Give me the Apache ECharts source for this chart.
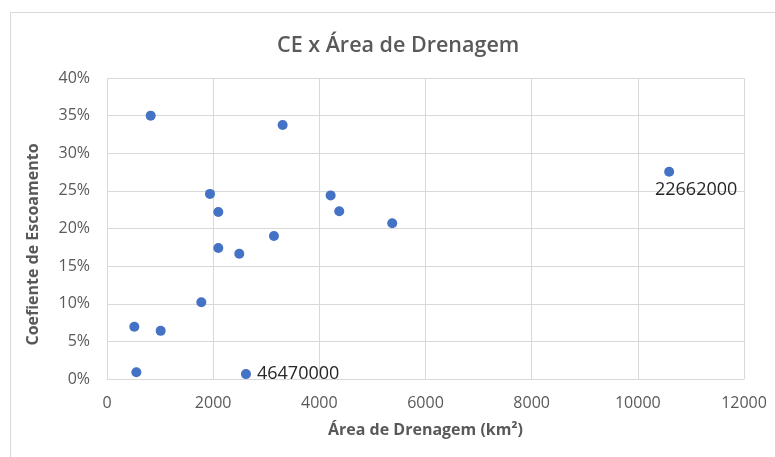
<!DOCTYPE html>
<html>
<head>
<meta charset="utf-8">
<script src="https://cdn.jsdelivr.net/npm/echarts@6/dist/echarts.min.js"></script>
<style>
  html, body { margin: 0; padding: 0; background: #fff; }
  #chart { width: 775px; height: 457px; }
</style>
</head>
<body>
<div id="chart"></div>
<script>
// Drainage area (km²) of each basin and its runoff coefficient
const areaKm2 = [823, 3309, 1940, 2097, 4213, 4375, 5373, 3145, 2097, 2492, 1777, 515, 1011, 553, 2618, 10590];
const runoffCoef = [0.350, 0.3375, 0.246, 0.222, 0.244, 0.223, 0.207, 0.190, 0.174, 0.1665, 0.102, 0.0695, 0.064, 0.009, 0.0065, 0.2755];
// Text shown beside selected points (empty = no label)
const pointLabels = ['', '', '', '', '', '', '', '', '', '', '', '', '', '', '46470000', '22662000'];

const xTicks = { min: 0, max: 12000, step: 2000 };
const yTicks = { min: 0, max: 0.4, step: 0.05 };

const FONT = '"Open Sans", "Liberation Sans", sans-serif';
const GREY = '#595959';

const labelPlacement = {
  '46470000': { position: 'right', distance: 6, offset: [0, 0] },
  '22662000': { position: 'bottom', distance: 4, offset: [27, 0] }
};

const points = areaKm2.map((a, i) => {
  const item = { value: [a, runoffCoef[i]] };
  const txt = pointLabels[i];
  if (txt) {
    const p = labelPlacement[txt];
    item.label = {
      show: true,
      formatter: txt,
      position: p.position,
      distance: p.distance,
      offset: p.offset,
      color: '#262626',
      fontSize: 18,
      fontFamily: FONT
    };
  }
  return item;
});

const chart = echarts.init(document.getElementById('chart'), null, { renderer: 'canvas' });
chart.setOption({
  backgroundColor: '#ffffff',
  animation: false,
  title: {
    text: 'CE x Área de Drenagem',
    left: 272,
    top: 30,
    textStyle: { color: GREY, fontSize: 21.5, fontWeight: 600, fontFamily: FONT }
  },
  graphic: [{
    type: 'rect',
    shape: { x: 10.5, y: 12.5, width: 780, height: 460 },
    style: { fill: 'none', stroke: '#d9d9d9', lineWidth: 1 },
    silent: true
  }],
  grid: { left: 107, right: 31, top: 78, bottom: 78, containLabel: false },
  xAxis: {
    type: 'value',
    min: xTicks.min, max: xTicks.max, interval: xTicks.step,
    name: 'Área de Drenagem (km²)',
    nameLocation: 'middle',
    nameGap: 43,
    nameTextStyle: { color: GREY, fontSize: 16, fontWeight: 'bold', fontFamily: FONT },
    axisLine: { show: true, lineStyle: { color: '#d9d9d9', width: 1 } },
    axisTick: { show: false },
    axisLabel: {
      color: GREY, fontSize: 16, fontFamily: FONT, margin: 16,
      formatter: v => String(v)
    },
    splitLine: { show: true, lineStyle: { color: '#d9d9d9', width: 1 } }
  },
  yAxis: {
    type: 'value',
    min: yTicks.min, max: yTicks.max, interval: yTicks.step,
    name: 'Coefiente de Escoamento',
    nameLocation: 'middle',
    nameGap: 66,
    nameRotate: 90,
    nameTextStyle: {
      color: GREY, fontSize: 16, fontWeight: 'bold', fontFamily: FONT,
      padding: [0, 32, 0, 0]
    },
    axisLine: { show: false },
    axisTick: { show: false },
    axisLabel: {
      color: GREY, fontSize: 16, fontFamily: FONT, margin: 17,
      formatter: v => Math.round(v * 100) + '%'
    },
    splitLine: { show: true, lineStyle: { color: '#d9d9d9', width: 1 } }
  },
  series: [{
    type: 'scatter',
    data: points,
    symbol: 'circle',
    symbolSize: 10,
    itemStyle: { color: '#4472C4', opacity: 1 }
  }]
});
</script>
</body>
</html>
